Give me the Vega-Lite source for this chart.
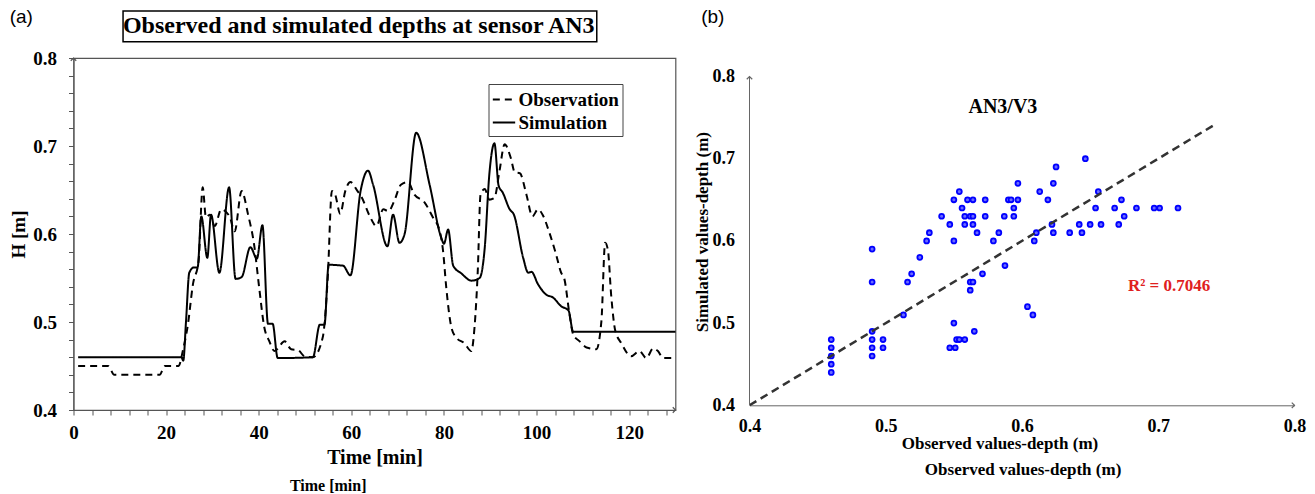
{
  "$schema": "https://vega.github.io/schema/vega-lite/v6.json",
  "autosize": {"type": "pad"},
  "padding": {"left": 8.5, "top": 7, "right": 0, "bottom": 0},
  "background": "white",
  "spacing": 74,
  "bounds": "flush",
  "config": {
    "view": {"stroke": null},
    "axis": {
      "labelFont": "Liberation Serif", "labelFontWeight": "bold", "labelColor": "black",
      "titleFont": "Liberation Serif", "titleFontWeight": "bold", "titleColor": "black",
      "grid": false, "domainColor": "#555", "tickColor": "#555", "labelOverlap": false, "labelFlush": false
    }
  },
  "datasets": {
    "ts": [
      {"t": 1, "H": 0.46, "series": "Simulation"},
      {"t": 23.3, "H": 0.46, "series": "Simulation"},
      {"t": 23.7, "H": 0.456, "series": "Simulation"},
      {"t": 24.3, "H": 0.501, "series": "Simulation"},
      {"t": 25.0, "H": 0.556, "series": "Simulation"},
      {"t": 26.0, "H": 0.562, "series": "Simulation"},
      {"t": 26.8, "H": 0.562, "series": "Simulation"},
      {"t": 27.6, "H": 0.62, "series": "Simulation"},
      {"t": 28.9, "H": 0.573, "series": "Simulation"},
      {"t": 29.7, "H": 0.622, "series": "Simulation"},
      {"t": 31.5, "H": 0.556, "series": "Simulation"},
      {"t": 33.6, "H": 0.653, "series": "Simulation"},
      {"t": 35.0, "H": 0.549, "series": "Simulation"},
      {"t": 36.3, "H": 0.551, "series": "Simulation"},
      {"t": 38.2, "H": 0.585, "series": "Simulation"},
      {"t": 39.6, "H": 0.572, "series": "Simulation"},
      {"t": 40.8, "H": 0.61, "series": "Simulation"},
      {"t": 42.0, "H": 0.498, "series": "Simulation"},
      {"t": 43.0, "H": 0.498, "series": "Simulation"},
      {"t": 44.1, "H": 0.459, "series": "Simulation"},
      {"t": 51.7, "H": 0.46, "series": "Simulation"},
      {"t": 53.2, "H": 0.497, "series": "Simulation"},
      {"t": 54.2, "H": 0.497, "series": "Simulation"},
      {"t": 55.1, "H": 0.565, "series": "Simulation"},
      {"t": 58.2, "H": 0.564, "series": "Simulation"},
      {"t": 59.8, "H": 0.553, "series": "Simulation"},
      {"t": 62.0, "H": 0.649, "series": "Simulation"},
      {"t": 63.6, "H": 0.672, "series": "Simulation"},
      {"t": 64.7, "H": 0.656, "series": "Simulation"},
      {"t": 67.8, "H": 0.586, "series": "Simulation"},
      {"t": 69.0, "H": 0.622, "series": "Simulation"},
      {"t": 70.4, "H": 0.59, "series": "Simulation"},
      {"t": 71.5, "H": 0.6, "series": "Simulation"},
      {"t": 74.0, "H": 0.715, "series": "Simulation"},
      {"t": 76.9, "H": 0.656, "series": "Simulation"},
      {"t": 79.4, "H": 0.596, "series": "Simulation"},
      {"t": 80.0, "H": 0.589, "series": "Simulation"},
      {"t": 80.9, "H": 0.605, "series": "Simulation"},
      {"t": 82.0, "H": 0.564, "series": "Simulation"},
      {"t": 83.8, "H": 0.555, "series": "Simulation"},
      {"t": 85.9, "H": 0.547, "series": "Simulation"},
      {"t": 87.7, "H": 0.55, "series": "Simulation"},
      {"t": 88.8, "H": 0.584, "series": "Simulation"},
      {"t": 89.8, "H": 0.668, "series": "Simulation"},
      {"t": 90.9, "H": 0.703, "series": "Simulation"},
      {"t": 91.8, "H": 0.655, "series": "Simulation"},
      {"t": 92.7, "H": 0.647, "series": "Simulation"},
      {"t": 94.2, "H": 0.628, "series": "Simulation"},
      {"t": 95.1, "H": 0.622, "series": "Simulation"},
      {"t": 97.1, "H": 0.573, "series": "Simulation"},
      {"t": 98.2, "H": 0.556, "series": "Simulation"},
      {"t": 98.9, "H": 0.557, "series": "Simulation"},
      {"t": 100.3, "H": 0.543, "series": "Simulation"},
      {"t": 102.1, "H": 0.531, "series": "Simulation"},
      {"t": 103.5, "H": 0.528, "series": "Simulation"},
      {"t": 105.3, "H": 0.518, "series": "Simulation"},
      {"t": 106.9, "H": 0.513, "series": "Simulation"},
      {"t": 107.9, "H": 0.489, "series": "Simulation"},
      {"t": 130, "H": 0.489, "series": "Simulation"},
      {"t": 1, "H": 0.45, "series": "Observation"},
      {"t": 7.5, "H": 0.45, "series": "Observation"},
      {"t": 8.8, "H": 0.44, "series": "Observation"},
      {"t": 18.6, "H": 0.44, "series": "Observation"},
      {"t": 19.7, "H": 0.45, "series": "Observation"},
      {"t": 22.7, "H": 0.45, "series": "Observation"},
      {"t": 23.6, "H": 0.467, "series": "Observation"},
      {"t": 24.7, "H": 0.497, "series": "Observation"},
      {"t": 25.8, "H": 0.543, "series": "Observation"},
      {"t": 27.0, "H": 0.569, "series": "Observation"},
      {"t": 27.9, "H": 0.653, "series": "Observation"},
      {"t": 28.6, "H": 0.619, "series": "Observation"},
      {"t": 29.4, "H": 0.622, "series": "Observation"},
      {"t": 30.5, "H": 0.609, "series": "Observation"},
      {"t": 31.9, "H": 0.628, "series": "Observation"},
      {"t": 33.7, "H": 0.62, "series": "Observation"},
      {"t": 34.8, "H": 0.603, "series": "Observation"},
      {"t": 36.3, "H": 0.649, "series": "Observation"},
      {"t": 37.7, "H": 0.622, "series": "Observation"},
      {"t": 39.0, "H": 0.588, "series": "Observation"},
      {"t": 40.1, "H": 0.539, "series": "Observation"},
      {"t": 41.2, "H": 0.494, "series": "Observation"},
      {"t": 42.3, "H": 0.478, "series": "Observation"},
      {"t": 43.4, "H": 0.467, "series": "Observation"},
      {"t": 45.6, "H": 0.478, "series": "Observation"},
      {"t": 47.0, "H": 0.469, "series": "Observation"},
      {"t": 48.5, "H": 0.468, "series": "Observation"},
      {"t": 49.9, "H": 0.461, "series": "Observation"},
      {"t": 51.7, "H": 0.46, "series": "Observation"},
      {"t": 53.8, "H": 0.482, "series": "Observation"},
      {"t": 54.9, "H": 0.55, "series": "Observation"},
      {"t": 55.8, "H": 0.649, "series": "Observation"},
      {"t": 56.5, "H": 0.645, "series": "Observation"},
      {"t": 57.6, "H": 0.623, "series": "Observation"},
      {"t": 58.7, "H": 0.649, "series": "Observation"},
      {"t": 59.8, "H": 0.659, "series": "Observation"},
      {"t": 61.3, "H": 0.649, "series": "Observation"},
      {"t": 62.1, "H": 0.643, "series": "Observation"},
      {"t": 64.0, "H": 0.62, "series": "Observation"},
      {"t": 65.4, "H": 0.609, "series": "Observation"},
      {"t": 66.9, "H": 0.628, "series": "Observation"},
      {"t": 68.0, "H": 0.626, "series": "Observation"},
      {"t": 69.3, "H": 0.638, "series": "Observation"},
      {"t": 70.7, "H": 0.656, "series": "Observation"},
      {"t": 72.2, "H": 0.659, "series": "Observation"},
      {"t": 73.6, "H": 0.645, "series": "Observation"},
      {"t": 75.8, "H": 0.636, "series": "Observation"},
      {"t": 77.6, "H": 0.619, "series": "Observation"},
      {"t": 79.1, "H": 0.603, "series": "Observation"},
      {"t": 79.8, "H": 0.581, "series": "Observation"},
      {"t": 80.5, "H": 0.539, "series": "Observation"},
      {"t": 81.6, "H": 0.494, "series": "Observation"},
      {"t": 82.7, "H": 0.482, "series": "Observation"},
      {"t": 84.4, "H": 0.476, "series": "Observation"},
      {"t": 85.9, "H": 0.467, "series": "Observation"},
      {"t": 86.6, "H": 0.494, "series": "Observation"},
      {"t": 87.3, "H": 0.558, "series": "Observation"},
      {"t": 87.9, "H": 0.645, "series": "Observation"},
      {"t": 88.8, "H": 0.651, "series": "Observation"},
      {"t": 89.8, "H": 0.639, "series": "Observation"},
      {"t": 90.9, "H": 0.641, "series": "Observation"},
      {"t": 92.0, "H": 0.672, "series": "Observation"},
      {"t": 93.1, "H": 0.702, "series": "Observation"},
      {"t": 94.4, "H": 0.687, "series": "Observation"},
      {"t": 95.3, "H": 0.67, "series": "Observation"},
      {"t": 96.4, "H": 0.669, "series": "Observation"},
      {"t": 97.8, "H": 0.645, "series": "Observation"},
      {"t": 99.1, "H": 0.62, "series": "Observation"},
      {"t": 100.3, "H": 0.628, "series": "Observation"},
      {"t": 101.3, "H": 0.622, "series": "Observation"},
      {"t": 102.8, "H": 0.601, "series": "Observation"},
      {"t": 104.2, "H": 0.577, "series": "Observation"},
      {"t": 105.3, "H": 0.556, "series": "Observation"},
      {"t": 106.0, "H": 0.549, "series": "Observation"},
      {"t": 107.1, "H": 0.509, "series": "Observation"},
      {"t": 107.9, "H": 0.486, "series": "Observation"},
      {"t": 109.3, "H": 0.478, "series": "Observation"},
      {"t": 110.8, "H": 0.471, "series": "Observation"},
      {"t": 112.9, "H": 0.469, "series": "Observation"},
      {"t": 114.0, "H": 0.501, "series": "Observation"},
      {"t": 114.8, "H": 0.59, "series": "Observation"},
      {"t": 115.4, "H": 0.582, "series": "Observation"},
      {"t": 116.1, "H": 0.531, "series": "Observation"},
      {"t": 117.0, "H": 0.49, "series": "Observation"},
      {"t": 118.3, "H": 0.476, "series": "Observation"},
      {"t": 120.4, "H": 0.461, "series": "Observation"},
      {"t": 122.2, "H": 0.467, "series": "Observation"},
      {"t": 123.7, "H": 0.459, "series": "Observation"},
      {"t": 125.2, "H": 0.47, "series": "Observation"},
      {"t": 126.2, "H": 0.467, "series": "Observation"},
      {"t": 127.3, "H": 0.459, "series": "Observation"},
      {"t": 130, "H": 0.459, "series": "Observation"}
    ],
    "sc": [
      {"obs": 0.554, "sim": 0.66}, {"obs": 0.55, "sim": 0.65}, {"obs": 0.56, "sim": 0.65}, {"obs": 0.564, "sim": 0.65},
      {"obs": 0.573, "sim": 0.65}, {"obs": 0.556, "sim": 0.64}, {"obs": 0.541, "sim": 0.63}, {"obs": 0.558, "sim": 0.63},
      {"obs": 0.562, "sim": 0.63}, {"obs": 0.564, "sim": 0.63}, {"obs": 0.573, "sim": 0.63}, {"obs": 0.547, "sim": 0.62},
      {"obs": 0.558, "sim": 0.62}, {"obs": 0.564, "sim": 0.62}, {"obs": 0.532, "sim": 0.61}, {"obs": 0.567, "sim": 0.61},
      {"obs": 0.583, "sim": 0.61}, {"obs": 0.53, "sim": 0.6}, {"obs": 0.55, "sim": 0.6}, {"obs": 0.579, "sim": 0.6},
      {"obs": 0.49, "sim": 0.59}, {"obs": 0.525, "sim": 0.58}, {"obs": 0.519, "sim": 0.56}, {"obs": 0.516, "sim": 0.55},
      {"obs": 0.49, "sim": 0.55}, {"obs": 0.571, "sim": 0.56}, {"obs": 0.562, "sim": 0.55}, {"obs": 0.564, "sim": 0.55},
      {"obs": 0.562, "sim": 0.54}, {"obs": 0.513, "sim": 0.51}, {"obs": 0.55, "sim": 0.5}, {"obs": 0.565, "sim": 0.49},
      {"obs": 0.49, "sim": 0.49}, {"obs": 0.46, "sim": 0.48}, {"obs": 0.46, "sim": 0.47}, {"obs": 0.46, "sim": 0.46},
      {"obs": 0.46, "sim": 0.45}, {"obs": 0.46, "sim": 0.44}, {"obs": 0.49, "sim": 0.48}, {"obs": 0.49, "sim": 0.47},
      {"obs": 0.49, "sim": 0.46}, {"obs": 0.498, "sim": 0.48}, {"obs": 0.498, "sim": 0.47}, {"obs": 0.552, "sim": 0.48},
      {"obs": 0.554, "sim": 0.48}, {"obs": 0.558, "sim": 0.48}, {"obs": 0.547, "sim": 0.47}, {"obs": 0.551, "sim": 0.47},
      {"obs": 0.6465, "sim": 0.7}, {"obs": 0.625, "sim": 0.69}, {"obs": 0.597, "sim": 0.67}, {"obs": 0.623, "sim": 0.67},
      {"obs": 0.613, "sim": 0.66}, {"obs": 0.656, "sim": 0.66}, {"obs": 0.59, "sim": 0.65}, {"obs": 0.592, "sim": 0.65},
      {"obs": 0.597, "sim": 0.65}, {"obs": 0.619, "sim": 0.65}, {"obs": 0.594, "sim": 0.64}, {"obs": 0.654, "sim": 0.64},
      {"obs": 0.668, "sim": 0.64}, {"obs": 0.684, "sim": 0.64}, {"obs": 0.697, "sim": 0.64}, {"obs": 0.701, "sim": 0.64},
      {"obs": 0.7145, "sim": 0.64}, {"obs": 0.673, "sim": 0.65}, {"obs": 0.587, "sim": 0.63}, {"obs": 0.594, "sim": 0.63},
      {"obs": 0.675, "sim": 0.63}, {"obs": 0.622, "sim": 0.62}, {"obs": 0.642, "sim": 0.62}, {"obs": 0.65, "sim": 0.62},
      {"obs": 0.658, "sim": 0.62}, {"obs": 0.671, "sim": 0.62}, {"obs": 0.6105, "sim": 0.61}, {"obs": 0.623, "sim": 0.61},
      {"obs": 0.635, "sim": 0.61}, {"obs": 0.644, "sim": 0.61}, {"obs": 0.609, "sim": 0.6}, {"obs": 0.5875, "sim": 0.57},
      {"obs": 0.604, "sim": 0.52}, {"obs": 0.608, "sim": 0.51}
    ]
  },
  "hconcat": [
    {
      "width": 602,
      "height": 352,
      "view": {"stroke": "#555", "strokeWidth": 1.2},
      "layer": [
        {
          "data": {"name": "ts"},
          "mark": {"type": "line", "interpolate": "monotone", "strokeWidth": 2, "color": "black"},
          "encoding": {
            "x": {
              "field": "t", "type": "quantitative",
              "scale": {"domain": [0, 130], "nice": false, "zero": false},
              "axis": {
                "values": [0, 4, 8, 12, 16, 20, 24, 28, 32, 36, 40, 44, 48, 52, 56, 60, 64, 68, 72, 76, 80, 84, 88, 92, 96, 100, 104, 108, 112, 116, 120, 124, 128],
                "tickCount": 200,
                "labelExpr": "datum.value % 20 === 0 ? format(datum.value, 'd') : ''",
                "labelOverlap": false, "labelFlush": false, "labelBound": false,
                "title": "Time [min]", "titleFontSize": 20, "titlePadding": 5,
                "labelFontSize": 19, "labelPadding": 8, "tickSize": 5
              }
            },
            "y": {
              "field": "H", "type": "quantitative",
              "scale": {"domain": [0.4, 0.8], "nice": false, "zero": false},
              "axis": {
                "values": [0.4, 0.42, 0.44, 0.46, 0.48, 0.5, 0.52, 0.54, 0.56, 0.58, 0.6, 0.62, 0.64, 0.66, 0.68, 0.7, 0.72, 0.74, 0.76, 0.78, 0.8],
                "tickCount": 200,
                "labelExpr": "abs(datum.value * 10 - round(datum.value * 10)) < 0.001 ? format(datum.value, '.1f') : ''",
                "labelOverlap": false, "labelFlush": false, "labelBound": false,
                "title": "H [m]", "titleFontSize": 19, "titlePadding": 4,
                "labelFontSize": 19, "labelPadding": 12, "tickSize": 5
              }
            },
            "strokeDash": {
              "field": "series", "type": "nominal",
              "scale": {"domain": ["Observation", "Simulation"], "range": [[7, 5], [1, 0]]},
              "legend": {
                "orient": "none", "legendX": 415, "legendY": 26, "title": null,
                "labelFont": "Liberation Serif", "labelFontWeight": "bold", "labelFontSize": 19, "labelColor": "black",
                "symbolType": "stroke", "symbolSize": 500, "symbolStrokeWidth": 2, "symbolStrokeColor": "black",
                "strokeColor": "#444", "fillColor": "white", "padding": 3, "rowPadding": 0, "labelOffset": 2
              }
            }
          }
        },
        {
          "data": {"values": [{}]},
          "mark": {"type": "rect", "fill": "white", "stroke": "black", "strokeWidth": 1.5},
          "encoding": {"x": {"datum": 10.7}, "x2": {"datum": 113}, "y": {"datum": 0.8185}, "y2": {"datum": 0.8534}}
        },
        {
          "data": {"values": [{}]},
          "mark": {"type": "text", "text": "Observed and simulated depths at sensor AN3", "font": "Liberation Serif", "fontWeight": "bold", "fontSize": 24, "baseline": "middle", "align": "center", "color": "black"},
          "encoding": {"x": {"datum": 61.6}, "y": {"datum": 0.8364}}
        },
        {
          "data": {"values": [{}]},
          "mark": {"type": "text", "text": "(a)", "font": "Liberation Sans", "fontSize": 19, "baseline": "top", "align": "left", "color": "black"},
          "encoding": {"x": {"datum": -13.78}, "y": {"datum": 0.8568}}
        },
        {
          "data": {"values": [{}]},
          "mark": {"type": "text", "text": "Time [min]", "font": "Liberation Serif", "fontWeight": "bold", "fontSize": 16, "baseline": "middle", "align": "center", "color": "black"},
          "encoding": {"x": {"datum": 55}, "y": {"datum": 0.3136}}
        },
        {
          "data": {"values": [{}]},
          "mark": {"type": "point", "shape": "M-1,1L0,0L1,1", "filled": false, "size": 30, "strokeWidth": 1.2, "color": "#555", "opacity": 1},
          "encoding": {"x": {"datum": 0}, "y": {"datum": 0.8}}
        },
        {
          "data": {"values": [{}]},
          "mark": {"type": "point", "shape": "M-1,-1L0,0L-1,1", "filled": false, "size": 30, "strokeWidth": 1.2, "color": "#555", "opacity": 1},
          "encoding": {"x": {"datum": 130}, "y": {"datum": 0.4}}
        }
      ]
    },
    {
      "width": 545,
      "height": 347.3,
      "view": {"stroke": null},
      "layer": [
        {
          "data": {"name": "sc"},
          "mark": {"type": "point", "shape": "circle", "filled": true, "fill": "#6b6bff", "stroke": "#0000ff", "strokeWidth": 1.8, "size": 24, "opacity": 1},
          "encoding": {
            "x": {
              "field": "obs", "type": "quantitative",
              "scale": {"domain": [0.4, 0.8], "nice": false, "zero": false},
              "axis": {
                "values": [0.4, 0.5, 0.6, 0.7, 0.8], "format": ".1f", "ticks": false, "tickCount": 50,
                "labelOverlap": false, "labelFlush": false,
                "title": "Observed values-depth (m)", "titleFontSize": 17, "titlePadding": 0, "titleX": 250,
                "labelFontSize": 18, "labelPadding": 12, "domainColor": "#666"
              }
            },
            "y": {
              "field": "sim", "type": "quantitative",
              "scale": {"domain": [0.4, 0.8225], "nice": false, "zero": false},
              "axis": {
                "values": [0.4, 0.5, 0.6, 0.7, 0.8], "format": ".1f", "ticks": false, "domain": false, "tickCount": 50,
                "labelOverlap": false, "labelFlush": false,
                "title": "Simulated values-depth (m)", "titleFontSize": 17, "titlePadding": 1,
                "labelFontSize": 18, "labelPadding": 15
              }
            }
          }
        },
        {
          "data": {"values": [{}]},
          "mark": {"type": "rule", "strokeDash": [8, 5], "stroke": "#333", "strokeWidth": 2.5},
          "encoding": {"x": {"datum": 0.4}, "y": {"datum": 0.4}, "x2": {"datum": 0.74}, "y2": {"datum": 0.74}}
        },
        {
          "data": {"values": [{}]},
          "mark": {"type": "rule", "stroke": "#666", "strokeWidth": 1},
          "encoding": {"x": {"datum": 0.4}, "y": {"datum": 0.4}, "y2": {"datum": 0.8}}
        },
        {
          "data": {"values": [{}]},
          "mark": {"type": "point", "shape": "M-1,1L0,0L1,1", "filled": false, "size": 30, "strokeWidth": 1.2, "color": "#666", "opacity": 1},
          "encoding": {"x": {"datum": 0.4}, "y": {"datum": 0.8}}
        },
        {
          "data": {"values": [{}]},
          "mark": {"type": "point", "shape": "M-1,-1L0,0L-1,1", "filled": false, "size": 30, "strokeWidth": 1.2, "color": "#666", "opacity": 1},
          "encoding": {"x": {"datum": 0.8}, "y": {"datum": 0.4}}
        },
        {
          "data": {"values": [{}]},
          "mark": {"type": "text", "text": "(b)", "font": "Liberation Sans", "fontSize": 19, "baseline": "top", "align": "left", "color": "black"},
          "encoding": {"x": {"datum": 0.3645}, "y": {"datum": 0.8833}}
        },
        {
          "data": {"values": [{}]},
          "mark": {"type": "text", "text": "AN3/V3", "font": "Liberation Serif", "fontWeight": "bold", "fontSize": 20, "baseline": "middle", "align": "center", "color": "black"},
          "encoding": {"x": {"datum": 0.586}, "y": {"datum": 0.763}}
        },
        {
          "data": {"values": [{}]},
          "mark": {"type": "text", "text": "R² = 0.7046", "font": "Liberation Serif", "fontWeight": "bold", "fontSize": 17, "baseline": "middle", "align": "center", "color": "#e0201e"},
          "encoding": {"x": {"datum": 0.708}, "y": {"datum": 0.545}}
        },
        {
          "data": {"values": [{}]},
          "mark": {"type": "text", "text": "Observed values-depth (m)", "font": "Liberation Serif", "fontWeight": "bold", "fontSize": 17, "baseline": "middle", "align": "center", "color": "black"},
          "encoding": {"x": {"datum": 0.6008}, "y": {"datum": 0.3213}}
        }
      ]
    }
  ]
}
